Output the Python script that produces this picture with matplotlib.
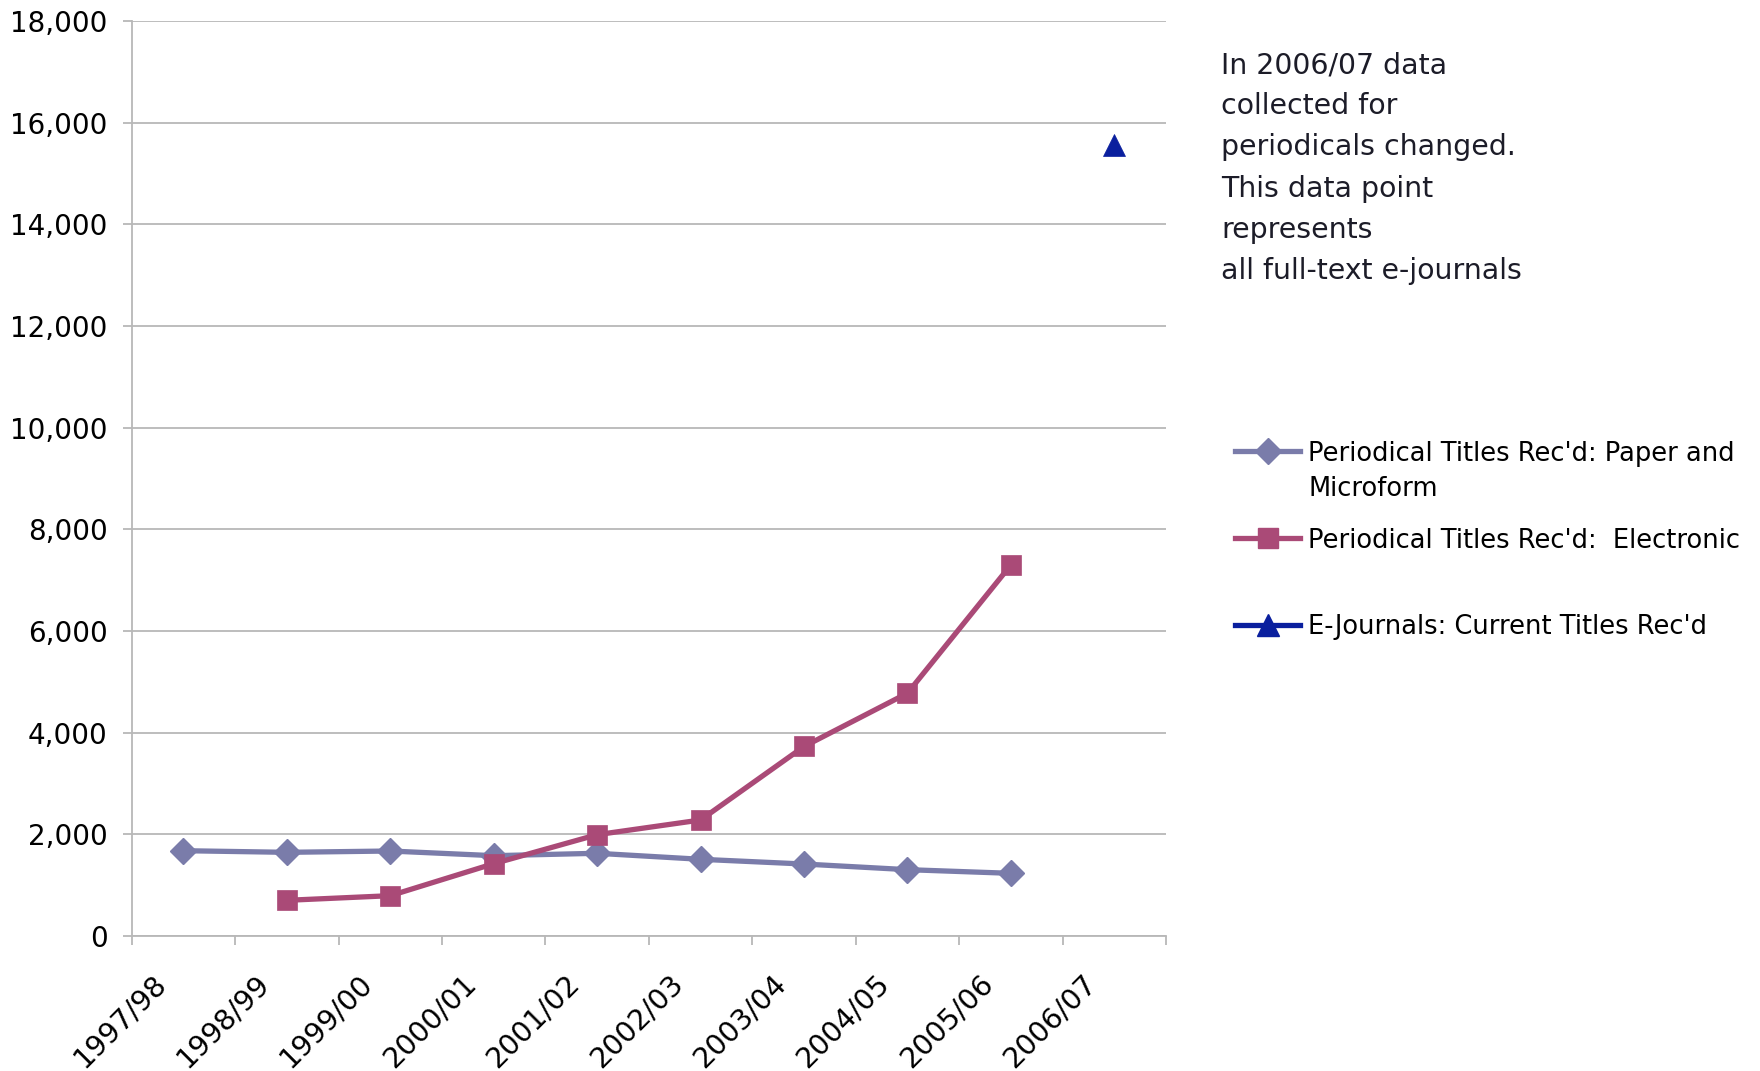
import matplotlib
matplotlib.use("Agg")
import matplotlib.pyplot as plt
import numpy as np
from matplotlib.lines import Line2D

years = ["1997/98", "1998/99", "1999/00", "2000/01", "2001/02",
         "2002/03", "2003/04", "2004/05", "2005/06", "2006/07"]
paper = [1678, 1646, 1672, 1580, 1627, 1509, 1416, 1305, 1233, None]
electronic = [None, 702, 793, 1423, 1993, 2282, 3728, 4777, 7299, None]
ejournals = [None, None, None, None, None, None, None, None, None, 15562]

series_labels = ["Periodical Titles Rec'd: Paper and\nMicroform",
                 "Periodical Titles Rec'd:  Electronic",
                 "E-Journals: Current Titles Rec'd"]
note = ("In 2006/07 data\ncollected for\nperiodicals changed.\n"
        "This data point\nrepresents\nall full-text e-journals")

c_paper = "#7a7caa"
c_elec = "#aa4a77"
c_ej = "#0a1f9e"
c_grid = "#b8b8b8"

def arr(v):
    return np.array([np.nan if x is None else x for x in v], dtype=float)

W, H = 1760, 1071
fig = plt.figure(figsize=(W / 100, H / 100), dpi=100)
L, R, T, B = 131.7, 1166, 21, 936
ax = fig.add_axes([L / W, 1 - B / H, (R - L) / W, (B - T) / H])

LW = 3.8
x = np.arange(len(years))
ax.plot(x, arr(paper), color=c_paper, lw=LW, marker="D", ms=13.5, mec=c_paper, mfc=c_paper, zorder=3)
ax.plot(x, arr(electronic), color=c_elec, lw=LW, marker="s", ms=15, mec=c_elec, mfc=c_elec, mew=0.5, zorder=4)
ax.plot(x, arr(ejournals), color=c_ej, lw=LW, marker="^", ms=16, mec=c_ej, mfc=c_ej, mew=0.5, zorder=5)

ax.set_xlim(-0.5, len(years) - 0.5)
ax.set_ylim(0, 18000)
ax.set_yticks(np.arange(0, 18001, 2000))
ax.set_yticklabels([f"{v:,}" for v in range(0, 18001, 2000)], fontsize=20)
ax.yaxis.grid(True, color=c_grid, lw=1.3)
ax.set_axisbelow(True)
# category labels: right end of the rotated text sits a little left of each category centre
label_offset = 0.21
ax.set_xticks(x - label_offset)
ax.set_xticklabels(years, rotation=45, ha="right", va="center", rotation_mode="anchor", fontsize=20.5)
ax.set_xticks(np.arange(-0.5, len(years), 1.0), minor=True)
ax.tick_params(axis="x", which="major", length=0, pad=31)
ax.tick_params(axis="x", which="minor", length=6.5, color=c_grid, width=1.3)
ax.tick_params(axis="y", length=6.5, color=c_grid, width=1.3, pad=11)
for s in ["top", "right"]:
    ax.spines[s].set_visible(False)
for s in ["left", "bottom"]:
    ax.spines[s].set_color(c_grid)
    ax.spines[s].set_linewidth(1.3)

fig.text(1221 / W, 1 - 51 / H, note, fontsize=20.4, va="top", ha="left",
         linespacing=1.6, color="#1c1c28")

# legend drawn manually (handle aligned with first text line, as in the reference)
entries = [(c_paper, "D", 13.5, 451), (c_elec, "s", 15, 538), (c_ej, "^", 16, 625)]
for (c, m, ms, yy), lab in zip(entries, series_labels):
    yf = 1 - yy / H
    fig.add_artist(Line2D([1235 / W, 1300 / W], [yf, yf], color=c, lw=LW,
                          transform=fig.transFigure))
    fig.add_artist(Line2D([1267.5 / W], [yf], color=c, marker=m, ms=ms, mec=c, mfc=c,
                          transform=fig.transFigure))
    fig.text(1308 / W, yf + 10.5 / H, lab, fontsize=18.5, va="top", ha="left",
             linespacing=1.45)

fig.savefig("out.png", dpi=100)
